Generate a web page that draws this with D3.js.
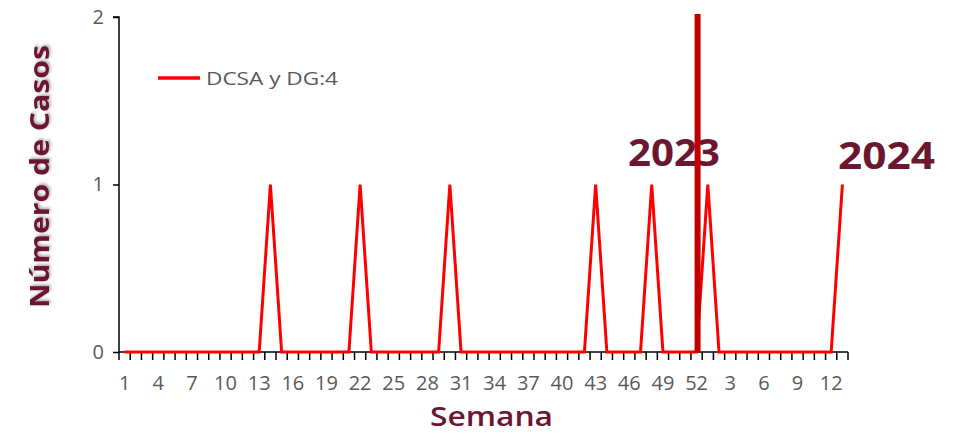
<!DOCTYPE html>
<html><head><meta charset="utf-8">
<script src="https://cdn.jsdelivr.net/npm/d3@7"></script>
<style>body{margin:0;background:#fff;}svg{display:block;font-family:"Open Sans",sans-serif;}</style>
</head><body>
<svg id="c" width="959" height="434"></svg>
<script>
const weeks2023 = d3.range(1, 53);
const weeks2024 = d3.range(1, 14);
const categories = weeks2023.map(w => "2023-" + w).concat(weeks2024.map(w => "2024-" + w));
const weekLabels = weeks2023.concat(weeks2024);
const caseWeeks = ["2023-14","2023-22","2023-30","2023-43","2023-48","2024-1","2024-13"];
const values = categories.map(c => caseWeeks.includes(c) ? 1 : 0);
const yTicks = [0, 1, 2];
const seriesName = "DCSA y DG:4";
const yearLabels = ["2023", "2024"];
const markerWeek = "2023-52";

(function () {
const svg = d3.select("#c");
const mL = 119, mR = 848, mT = 17, mB = 352;
const x = d3.scaleBand().domain(categories).range([mL, mR]);
const y = d3.scaleLinear().domain([0, 2]).range([mB, mT]);
const cx = c => x(c) + x.bandwidth() / 2;

const defs = svg.append("defs");
const f = defs.append("filter").attr("id", "sh").attr("x", "-20%").attr("y", "-20%").attr("width", "140%").attr("height", "140%");
f.append("feDropShadow").attr("dx", 1.5).attr("dy", 1.5).attr("stdDeviation", 1.5).attr("flood-color", "#000").attr("flood-opacity", 0.35);

// y axis
const ya = svg.append("g").attr("transform", `translate(${mL},0)`)
  .call(d3.axisLeft(y).tickValues(yTicks).tickFormat(d3.format("d")).tickSize(6).tickPadding(9));
ya.select(".domain").attr("stroke", "#000").attr("stroke-width", 1.5).attr("d", `M-6,${mT}H0V${mB}`);
ya.selectAll(".tick line").attr("stroke", "#000").attr("stroke-width", 1.5);
ya.selectAll(".tick text").attr("font-size", 20).attr("fill", "#595959").attr("font-family", "Open Sans");

// x axis: ticks between categories
const xa = svg.append("g").attr("transform", `translate(0,${mB})`);
xa.append("line").attr("x1", mL).attr("x2", mR).attr("y1", 0).attr("y2", 0).attr("stroke", "#000").attr("stroke-width", 1.5);
xa.selectAll("line.t").data(categories.concat(["end"])).join("line").attr("class", "t")
  .attr("x1", (d, i) => i < categories.length ? x(d) : mR)
  .attr("x2", (d, i) => i < categories.length ? x(d) : mR)
  .attr("y1", 0).attr("y2", 8).attr("stroke", "#000").attr("stroke-width", 1.5);
xa.selectAll("text").data(categories.filter((d, i) => i % 3 === 0)).join("text")
  .attr("x", d => cx(d)).attr("y", 38).attr("text-anchor", "middle")
  .attr("font-size", 20).attr("fill", "#595959")
  .text(d => weekLabels[categories.indexOf(d)]);

// line
svg.append("path").datum(values)
  .attr("d", d3.line().x((d, i) => cx(categories[i])).y(d => y(d)))
  .attr("fill", "none").attr("stroke", "#FF0000").attr("stroke-width", 3).attr("stroke-linejoin", "miter");

// year labels
svg.selectAll("text.yr").data(yearLabels).join("text").attr("class", "yr")
  .attr("x", (d, i) => i === 0 ? 628 : 838)
  .attr("y", (d, i) => i === 0 ? 166 : 169)
  .attr("font-size", 37).attr("font-weight", 700).attr("fill", "#6B1730")
  .attr("textLength", (d, i) => i === 0 ? 92 : 97).attr("lengthAdjust", "spacingAndGlyphs")
  .text(d => d);

// marker line
svg.append("line").attr("x1", cx(markerWeek) + 1).attr("x2", cx(markerWeek) + 1)
  .attr("y1", 14).attr("y2", mB).attr("stroke", "#C00000").attr("stroke-width", 6);

// legend
svg.append("line").attr("x1", 158).attr("x2", 200).attr("y1", 78).attr("y2", 78).attr("stroke", "#FF0000").attr("stroke-width", 3.5);
svg.append("text").attr("x", 206).attr("y", 85).attr("font-size", 19).attr("fill", "#595959")
  .attr("textLength", 132).attr("lengthAdjust", "spacingAndGlyphs").text(seriesName);

// axis titles
svg.append("text").attr("transform", "translate(49,45) rotate(-90)").attr("x", -263).attr("y", 0)
  .attr("font-size", 27).attr("font-weight", 700).attr("fill", "#6B1730").attr("filter", "url(#sh)")
  .attr("textLength", 263).attr("lengthAdjust", "spacingAndGlyphs").text("Número de Casos");
svg.append("text").attr("x", 430).attr("y", 426)
  .attr("font-size", 27).attr("font-weight", 600).attr("fill", "#6B1730")
  .attr("textLength", 123).attr("lengthAdjust", "spacingAndGlyphs").text("Semana");
})();
</script>
</body></html>
